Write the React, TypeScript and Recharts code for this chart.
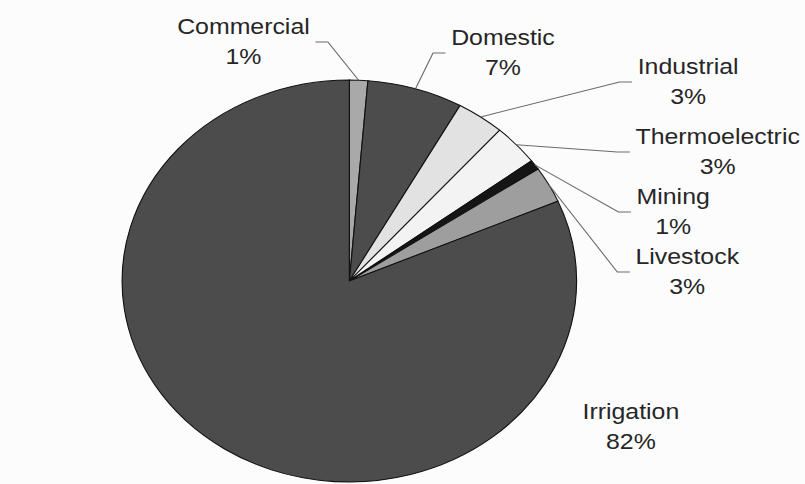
import React from 'react'
import { PieChart, Pie, Cell } from 'recharts'

const categories = ['Commercial', 'Domestic', 'Industrial', 'Thermoelectric', 'Mining', 'Livestock', 'Irrigation']
const shares = [1.3, 6.8, 3.4, 3.3, 0.8, 2.9, 81.5]
const sliceColors = ['#a9a9a9', '#4c4c4c', '#e2e2e2', '#f3f3f3', '#151515', '#9e9e9e', '#4c4c4c']

// where each leader line ends, relative to the pie centre (unstretched units)
const labelAnchors = [
    [-30, -239],
    [85, -228],
    [250, -199],
    [248, -129],
    [249, -69],
    [248, -9],
    [249, 146],
]
// -1 text left of anchor, 1 text right of it, 0 centred with no leader
const labelSide = [-1, 1, 1, 1, 1, 1, 0]

const data = categories.map((name, i) => ({ name, value: shares[i] }))

const CHART_W = 712
const CHART_H = 484
const STRETCH = 805 / CHART_W
const FONT = '22px "Liberation Sans", Arial, sans-serif'
const RAD = Math.PI / 180

let measureCtx: CanvasRenderingContext2D | null = null
function textWidth(s: string) {
    if (!measureCtx) measureCtx = document.createElement('canvas').getContext('2d')
    if (!measureCtx) return s.length * 11
    measureCtx.font = FONT
    return measureCtx.measureText(s).width
}

function renderLabel(props: any) {
    const { cx, cy, midAngle, outerRadius, percent, index, name } = props
    const [dx, dy] = labelAnchors[index]
    const side = labelSide[index]
    const ax = cx + dx
    const ay = cy + dy
    const pct = `${Math.round(percent * 100)}%`
    const w = Math.max(textWidth(name), textWidth(pct))
    const tx = side === 0 ? ax : ax + side * (5 + w / 2)
    const sx = cx + outerRadius * Math.cos(-midAngle * RAD)
    const sy = cy + outerRadius * Math.sin(-midAngle * RAD)
    const bx = ax - side * 11

    return (
        <g key={`label-${index}`}>
            {side !== 0 && (
                <polyline
                    points={`${sx},${sy} ${bx},${ay} ${ax},${ay}`}
                    fill="none"
                    stroke="#6a6a6a"
                    strokeWidth={1}
                />
            )}
            <text
                x={tx}
                y={ay - 15}
                textAnchor="middle"
                dominantBaseline="central"
                fill="#262626"
                style={{ font: FONT }}
            >
                {name}
            </text>
            <text
                x={tx}
                y={ay + 15}
                textAnchor="middle"
                dominantBaseline="central"
                fill="#262626"
                style={{ font: FONT }}
            >
                {pct}
            </text>
        </g>
    )
}

export default function App() {
    return (
        <div
            style={{
                position: 'absolute',
                left: 0,
                top: 0,
                width: CHART_W,
                height: CHART_H,
                background: '#fcfcfc',
                transform: `scaleX(${STRETCH})`,
                transformOrigin: '0 0',
            }}
        >
            <PieChart width={CHART_W} height={CHART_H} margin={{ top: 0, right: 0, bottom: 0, left: 0 }}>
                <Pie
                    data={data}
                    dataKey="value"
                    nameKey="name"
                    cx={309}
                    cy={281}
                    outerRadius={201}
                    startAngle={90}
                    endAngle={-270}
                    stroke="#111"
                    strokeWidth={1}
                    labelLine={false}
                    label={renderLabel}
                    isAnimationActive={false}
                >
                    {data.map((d, i) => (
                        <Cell key={d.name} fill={sliceColors[i]} />
                    ))}
                </Pie>
            </PieChart>
        </div>
    )
}
